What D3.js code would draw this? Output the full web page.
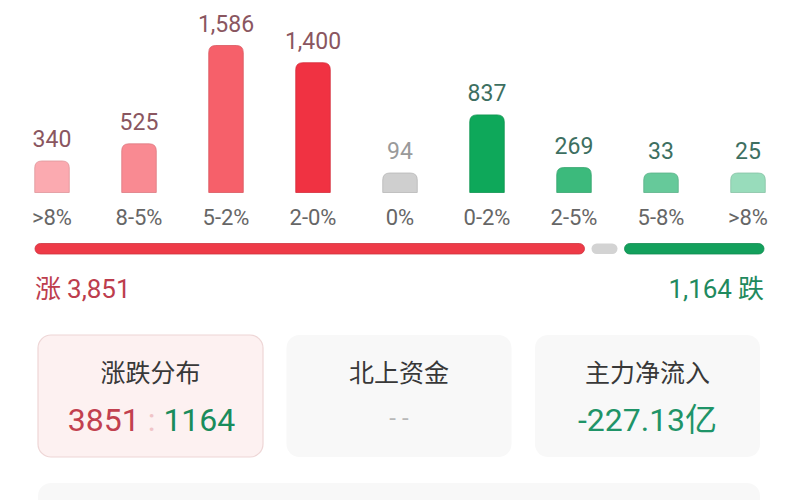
<!DOCTYPE html>
<html><head><meta charset="utf-8">
<script src="https://cdn.jsdelivr.net/npm/d3@7/dist/d3.min.js"></script>
<style>body{margin:0;background:#fff}svg{display:block}</style>
</head><body><svg id="c" width="800" height="500"></svg>
<script>
// ---- data ----
const categories = [">8%", "8-5%", "5-2%", "2-0%", "0%", "0-2%", "2-5%", "5-8%", ">8%"];
const counts = [340, 525, 1586, 1400, 94, 837, 269, 33, 25];
const barColors = ["#fbaab0", "#f98a92", "#f6606a", "#f03242", "#cfcfcf", "#0ea85a", "#3cba7c", "#66c99a", "#98dcbb"];
const valueColors = ["#8a5660", "#8a5660", "#8a5660", "#8a5660", "#9a9a9a", "#3d6f61", "#3d6f61", "#3d6f61", "#3d6f61"];
const upCount = 3851, flatCount = 94, downCount = 1164;
const upLabel = "涨", downLabel = "跌";
const cardTitles = ["涨跌分布", "北上资金", "主力净流入"];
const northFunds = "--";
const mainNetInflow = "-227.13亿";

const NUM = "Roboto, 'Noto Sans CJK SC', sans-serif";
const CJK = "'Noto Sans CJK SC', sans-serif";
const svg = d3.select("#c");
const fmt = d3.format(",");

// ---- bar chart ----
const x = d3.scalePoint().domain(d3.range(categories.length)).range([52, 748]);
const y = d3.scaleLinear().domain([0, d3.max(counts)]).range([0, 147]);
const base = 192.5, bw = 34.5, minH = 19.5, r = 7;
function topRounded(x0, y0, w, h, rr) {
  rr = Math.min(rr, h);
  return `M${x0},${y0 + h}V${y0 + rr}Q${x0},${y0} ${x0 + rr},${y0}H${x0 + w - rr}Q${x0 + w},${y0} ${x0 + w},${y0 + rr}V${y0 + h}Z`;
}
const g = svg.append("g");
counts.forEach((v, i) => {
  const h = Math.max(y(v), minH);
  const cx = x(i);
  g.append("path")
    .attr("d", topRounded(cx - bw / 2, base - h, bw, h, r))
    .attr("fill", barColors[i])
    .attr("stroke", d3.color(barColors[i]).darker(0.35))
    .attr("stroke-width", 0.8);
  g.append("text").attr("x", cx).attr("y", base - h - 14)
    .attr("text-anchor", "middle").attr("font-family", NUM).attr("font-size", 23)
    .attr("fill", valueColors[i]).text(fmt(v));
  g.append("text").attr("x", cx).attr("y", 225)
    .attr("text-anchor", "middle").attr("font-family", NUM).attr("font-size", 22)
    .attr("fill", "#666").text(categories[i]);
});

// ---- split bar ----
const total = upCount + flatCount + downCount;
const sx = d3.scaleLinear().domain([0, total]).range([35, 764]);
const gap = 7, minGray = 26, sy = 243.5, sh = 10.5;
const redEnd = sx(upCount);
const grayStart = redEnd + gap;
const grayEnd = grayStart + Math.max(sx(flatCount) - sx(0), minGray);
const greenStart = grayEnd + gap;
const segs = [
  [sx(0), redEnd, "#ee3a47"],
  [grayStart, grayEnd, "#d3d3d3"],
  [greenStart, sx(total), "#13a05c"]
];
segs.forEach(([a, b, c]) => {
  svg.append("rect").attr("x", a).attr("y", sy).attr("width", b - a).attr("height", sh)
    .attr("rx", sh / 2).attr("fill", c)
    .attr("stroke", c === "#d3d3d3" ? "none" : d3.color(c).darker(0.4)).attr("stroke-width", 0.8);
});

const upT = svg.append("text").attr("x", 35).attr("y", 298).attr("font-size", 26).attr("fill", "#bd3d4d");
upT.append("tspan").attr("font-family", CJK).text(upLabel);
upT.append("tspan").attr("font-family", NUM).attr("dx", 6).text(fmt(upCount));
const dnT = svg.append("text").attr("x", 764).attr("y", 298).attr("font-size", 26).attr("fill", "#1f8a5e").attr("text-anchor", "end");
dnT.append("tspan").attr("font-family", NUM).text(fmt(downCount));
dnT.append("tspan").attr("font-family", CJK).attr("dx", 6).text(downLabel);

// ---- cards ----
const cw = 225, cgap = 23.5, cx0 = 38, cy = 335, ch = 122;
cardTitles.forEach((t, i) => {
  const x0 = cx0 + i * (cw + cgap);
  const mid = x0 + cw / 2;
  svg.append("rect").attr("x", x0).attr("y", cy).attr("width", cw).attr("height", ch).attr("rx", 13)
    .attr("fill", i === 0 ? "#fdf1f1" : "#f8f8f8")
    .attr("stroke", i === 0 ? "#eed6d6" : "none").attr("stroke-width", 1.2);
  svg.append("text").attr("x", mid).attr("y", 382).attr("text-anchor", "middle")
    .attr("font-family", CJK).attr("font-size", 25).attr("fill", "#383838").text(t);
});
// card 1 value
const c1 = svg.append("text").attr("x", cx0 + cw / 2 + 1).attr("y", 431).attr("text-anchor", "middle")
  .attr("font-family", NUM).attr("font-size", 32);
c1.append("tspan").attr("fill", "#c2404f").text(upCount);
c1.append("tspan").attr("fill", "#f0c4c8").attr("dx", 8).text(":");
c1.append("tspan").attr("fill", "#1a8c5c").attr("dx", 8).text(downCount);
// card 2 value
svg.append("text").attr("x", cx0 + (cw + cgap) + cw / 2 + 3).attr("y", 426).attr("text-anchor", "middle")
  .attr("font-family", NUM).attr("font-size", 24).attr("letter-spacing", 6).attr("fill", "#b8b8b8").text(northFunds);
// card 3 value
svg.append("text").attr("x", cx0 + 2 * (cw + cgap) + cw / 2).attr("y", 431).attr("text-anchor", "middle")
  .attr("font-family", NUM).attr("font-size", 32).attr("fill", "#1f9468").text(mainNetInflow);

// bottom card (cut off)
svg.append("rect").attr("x", cx0).attr("y", 483).attr("width", 722).attr("height", 40).attr("rx", 13)
  .attr("fill", "#f8f8f8");
</script></body></html>
